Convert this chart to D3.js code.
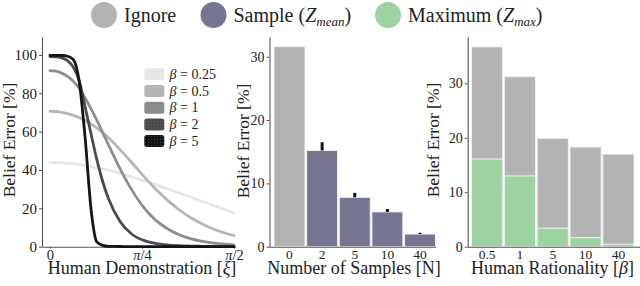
<!DOCTYPE html>
<html>
<head>
<meta charset="utf-8">
<script src="https://cdn.jsdelivr.net/npm/d3@7"></script>
<style>
body { margin: 0; background: #fff; }
svg { display: block; }
svg text { font-family: "Liberation Serif", "Times New Roman", "DejaVu Serif", serif !important; fill: #222; }
</style>
</head>
<body>
<svg width="640" height="286"></svg>
<script>
// ---- data ----
// left panel: belief error [%] vs demonstration angle xi (radians)
const xi = [0, 0.05, 0.1, 0.15, 0.2, 0.25, 0.3, 0.35, 0.4, 0.45, 0.5, 0.6, 0.7, 0.8, 0.9, 1.0, 1.1, 1.2, 1.3, 1.4, 1.5, 1.5708];
const errBeta025 = [44, 43.9, 43.8, 43.5, 43.2, 42.8, 42.3, 41.8, 41.2, 40.6, 39.9, 38.3, 36.4, 34.5, 32.4, 30.3, 28.1, 25.9, 23.7, 21.5, 19.3, 17.6];
const errBeta05  = [70.6, 70.5, 70.1, 69.4, 68.5, 67.3, 65.8, 64.0, 62.0, 59.5, 56.8, 50.5, 43.8, 36.8, 30.2, 24.4, 19.4, 15.2, 11.8, 9.1, 7.0, 5.9];
const errBeta1   = [91.8, 91.5, 90.5, 88.8, 86.2, 82.6, 77.5, 72, 66, 59.5, 53, 40.5, 29.5, 20.5, 14, 9.5, 6.3, 4.2, 2.8, 1.9, 1.3, 1.0];
const errBeta2   = [99.1, 99, 98.5, 97, 93.5, 86.5, 73, 59, 45.5, 34, 25, 13, 6.5, 3.3, 1.7, 0.9, 0.5, 0.3, 0.2, 0.1, 0.05, 0];
const errBeta5   = [99.8, 99.8, 99.7, 99.3, 97.5, 86, 57, 20, 2.5, 0.7, 0.2, 0.1, 0, 0, 0, 0, 0, 0, 0, 0, 0, 0];
const betaLabels = ['0.25', '0.5', '1', '2', '5'];
const xiTicks = [0, Math.PI / 4, Math.PI / 2];
const xiTickLabels = ['0', 'π/4', 'π/2'];

// middle panel: number of samples
const sampleCats = ['0', '2', '5', '10', '40'];
const sampleErr = [31.6, 15.2, 7.8, 5.5, 2.0];
const sampleErrHi = [null, 16.5, 8.5, 5.95, 2.2];

// right panel: human rationality
const rationCats = ['0.5', '1', '5', '10', '40'];
const ignoreErr = [36.7, 31.2, 19.9, 18.3, 17.0];
const maximumErr = [16.1, 13.0, 3.4, 1.66, 0.45];

const legendNames = ['Ignore', 'Sample', 'Maximum'];
const legendSubs = [null, 'mean', 'max'];

// ---- styles ----
const FONT = '"Liberation Serif", "Times New Roman", "DejaVu Serif", serif';
const GRAY = '#b3b3b3', SLATE = '#767691', GREEN = '#9dd3a1';
const curveColors = ['#e6e6e6', '#b6b6b6', '#8e8e8e', '#4b4b4b', '#141414'];
const AXIS = '#555';

let svg = d3.select('svg').attr('font-family', FONT);
let defs = svg.append('defs');

// little dotted fills for the legend swatches
[[2, '#7a7a7a'], [3, '#6a6a6a'], [4, '#555']].forEach(([i, dot]) => {
    let p = defs.append('pattern')
        .attr('id', `dots-${i}`)
        .attr('width', 3).attr('height', 3)
        .attr('patternUnits', 'userSpaceOnUse');
    p.append('rect').attr('width', 3).attr('height', 3).attr('fill', curveColors[i]);
    p.append('rect').attr('x', 1).attr('y', 1).attr('width', 0.8).attr('height', 0.8).attr('fill', dot);
});

function styleAxis(g, fontSize){
    g.attr('font-family', FONT);
    g.select('.domain').attr('stroke', AXIS).attr('stroke-width', 1.1);
    g.selectAll('.tick line').attr('stroke', AXIS);
    g.selectAll('.tick text')
        .attr('font-family', FONT)
        .attr('font-size', fontSize)
        .attr('fill', '#333');
}

function yTitle(x, y){
    svg.append('text')
        .attr('transform', `translate(${x},${y}) rotate(-90)`)
        .attr('text-anchor', 'middle')
        .attr('font-family', FONT)
        .attr('font-size', 17.5)
        .text('Belief Error [%]');
}

function xTitle(x, parts){
    let t = svg.append('text')
        .attr('x', x).attr('y', 273.5)
        .attr('text-anchor', 'middle')
        .attr('font-family', FONT)
        .attr('font-size', 18);
    parts.forEach(([s, italic]) => {
        t.append('tspan').attr('font-style', italic ? 'italic' : null).text(s);
    });
}

// ---- top legend ----
const legendX = [104, 213.5, 388];
const legendColors = [GRAY, SLATE, GREEN];
legendNames.forEach((name, i) => {
    svg.append('circle')
        .attr('cx', legendX[i]).attr('cy', 15).attr('r', 13)
        .attr('fill', legendColors[i]);
    let t = svg.append('text')
        .attr('x', legendX[i] + 20).attr('y', 22)
        .attr('font-family', FONT)
        .attr('font-size', 20);
    t.append('tspan').text(name);
    if (legendSubs[i]) {
        t.append('tspan').text(' (');
        t.append('tspan').attr('font-style', 'italic').text('Z');
        t.append('tspan').attr('font-style', 'italic').attr('font-size', 13).attr('dy', 4).text(legendSubs[i]);
        t.append('tspan').attr('dy', -4).text(')');
    }
});

// ---- panel 1: curves ----
const x1 = d3.scaleLinear().domain([-0.068, 1.585]).range([42, 235.6]);
const y1 = d3.scaleLinear().domain([0, 109.5]).range([246.7, 36.7]);

let ax1y = svg.append('g')
    .attr('transform', 'translate(42,0)')
    .call(d3.axisLeft(y1).tickValues([0, 20, 40, 60, 80, 100]).tickSize(3).tickPadding(2).tickSizeOuter(0));
styleAxis(ax1y, 15);
let ax1x = svg.append('g')
    .attr('transform', 'translate(0,246.7)')
    .call(d3.axisBottom(x1).tickValues(xiTicks).tickSize(2).tickPadding(1).tickSizeOuter(0)
        .tickFormat(() => ''));
styleAxis(ax1x, 14.5);
ax1x.selectAll('.tick text').each(function(d, i){
    const lab = xiTickLabels[i];
    const sel = d3.select(this);
    if (lab.startsWith('π')) {
        sel.append('tspan').attr('font-style', 'italic').text('π');
        sel.append('tspan').text(lab.slice(1));
    } else {
        sel.text(lab);
    }
});

const curveSeries = [errBeta025, errBeta05, errBeta1, errBeta2, errBeta5];
let line = d3.line()
    .x((d, i) => x1(xi[i]))
    .y(d => y1(d))
    .curve(d3.curveMonotoneX);
svg.append('g').selectAll('path')
    .data(curveSeries)
    .enter()
    .append('path')
        .attr('d', d => line(d))
        .attr('fill', 'none')
        .attr('stroke', (d, i) => curveColors[i])
        .attr('stroke-width', 2.8)
        .attr('stroke-linecap', 'round');

// legend inside panel 1
let leg = svg.append('g');
betaLabels.forEach((b, i) => {
    const yy = 68.3 + i * 16.7;
    leg.append('rect')
        .attr('x', 144.3).attr('y', yy).attr('width', 20).attr('height', 12).attr('rx', 2.5)
        .attr('fill', i >= 2 ? `url(#dots-${i})` : curveColors[i]);
    let t = leg.append('text')
        .attr('x', 169.5).attr('y', yy + 10.5)
        .attr('font-family', FONT)
        .attr('font-size', 14);
    t.append('tspan').attr('font-style', 'italic').text('β');
    t.append('tspan').text(' = ' + b);
});

yTitle(15, 140);
xTitle(142, [['Human Demonstration [', false], ['ξ', true], [']', false]]);

// ---- panel 2: number of samples ----
const x2 = d3.scaleBand().domain(sampleCats).range([274, 435.5]).paddingInner(0.05).paddingOuter(0);
const y2 = d3.scaleLinear().domain([0, 33.16]).range([246.7, 36.7]);

svg.append('g').selectAll('rect')
    .data(sampleErr)
    .enter()
    .append('rect')
        .attr('x', (d, i) => x2(sampleCats[i]))
        .attr('y', d => y2(d))
        .attr('width', x2.bandwidth())
        .attr('height', d => y2(0) - y2(d))
        .attr('fill', (d, i) => i === 0 ? GRAY : SLATE)
        .attr('stroke', '#f2f2f2')
        .attr('stroke-width', 1);

svg.append('g').selectAll('line')
    .data(sampleErrHi.map((hi, i) => ({hi: hi, v: sampleErr[i], c: sampleCats[i]})).filter(d => d.hi !== null))
    .enter()
    .append('line')
        .attr('x1', d => x2(d.c) + x2.bandwidth() / 2)
        .attr('x2', d => x2(d.c) + x2.bandwidth() / 2)
        .attr('y1', d => y2(d.v))
        .attr('y2', d => y2(d.hi))
        .attr('stroke', '#111')
        .attr('stroke-width', 3);

let ax2y = svg.append('g')
    .attr('transform', 'translate(269.5,0)')
    .call(d3.axisLeft(y2).tickValues([0, 10, 20, 30]).tickSize(3).tickPadding(2).tickSizeOuter(0));
styleAxis(ax2y, 14);
let ax2x = svg.append('g')
    .attr('transform', 'translate(0,246.7)')
    .call(d3.axisBottom(x2).tickSize(0).tickPadding(3));
styleAxis(ax2x, 13.5);
ax2x.select('.domain').attr('d', 'M269.5,0.5H436');

yTitle(249, 141);
xTitle(354, [['Number of Samples [N]', false]]);

// ---- panel 3: human rationality ----
const x3 = d3.scaleBand().domain(rationCats).range([471.5, 634]).paddingInner(0.05).paddingOuter(0);
const y3 = d3.scaleLinear().domain([0, 38.55]).range([246.7, 36.7]);

svg.append('g').selectAll('rect')
    .data(ignoreErr)
    .enter()
    .append('rect')
        .attr('x', (d, i) => x3(rationCats[i]))
        .attr('y', d => y3(d))
        .attr('width', x3.bandwidth())
        .attr('height', d => y3(0) - y3(d))
        .attr('fill', GRAY)
        .attr('stroke', '#f2f2f2')
        .attr('stroke-width', 1);
svg.append('g').selectAll('rect')
    .data(maximumErr)
    .enter()
    .append('rect')
        .attr('x', (d, i) => x3(rationCats[i]))
        .attr('y', d => y3(d))
        .attr('width', x3.bandwidth())
        .attr('height', d => y3(0) - y3(d))
        .attr('fill', GREEN)
        .attr('stroke', '#f2f2f2')
        .attr('stroke-width', 1);

let ax3y = svg.append('g')
    .attr('transform', 'translate(467.7,0)')
    .call(d3.axisLeft(y3).tickValues([0, 10, 20, 30]).tickSize(3).tickPadding(2).tickSizeOuter(0));
styleAxis(ax3y, 14);
let ax3x = svg.append('g')
    .attr('transform', 'translate(0,246.7)')
    .call(d3.axisBottom(x3).tickSize(0).tickPadding(3));
styleAxis(ax3x, 13.5);
ax3x.select('.domain').attr('d', 'M467.7,0.5H640');

yTitle(439, 140);
xTitle(552.5, [['Human Rationality [', false], ['β', true], [']', false]]);
</script>
</body>
</html>
